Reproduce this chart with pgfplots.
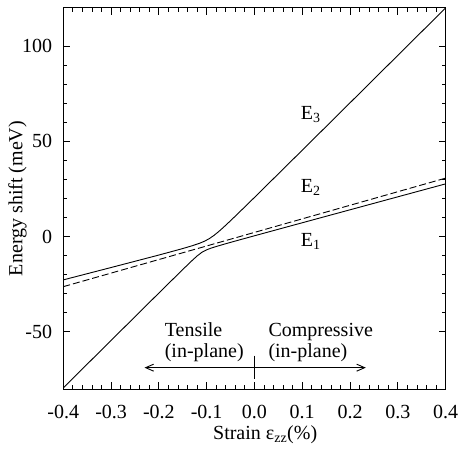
\documentclass[border=0pt]{standalone}
\usepackage{pgfplots}
\pgfplotsset{compat=1.18}
\usepackage{fontspec}
\setmainfont{Liberation Serif}
\usetikzlibrary{arrows.meta}
\begin{document}
\fontsize{20}{22}\selectfont
\begin{tikzpicture}
\begin{axis}[
  name=ax,
  scale only axis, width=382.3pt, height=381pt,
  xmin=-0.4, xmax=0.4, ymin=-80, ymax=120,
  xtick={-0.4,-0.3,-0.2,-0.1,0,0.1,0.2,0.3,0.4},
  xticklabels={-0.4,-0.3,-0.2,-0.1,0.0,0.1,0.2,0.3,0.4},
  ytick={-50,0,50,100},
  yticklabels={-50,0,50,100},
  minor x tick num=4, minor y tick num=4,
  tick align=inside,
  major tick length=7pt, minor tick length=4pt,
  every tick/.style={black, line width=0.8pt},
  axis line style={line width=1pt},
  xticklabel style={inner sep=0pt, yshift=-16pt},
  yticklabel style={inner sep=0pt, xshift=-11pt},
  xlabel={Strain ε\textsubscript{zz}(\%)},
  ylabel={Energy shift (meV)},
  xlabel style={at={([xshift=-41.5pt,yshift=-50pt]axis description cs:0.5,0)}, anchor=base west, inner sep=0pt},
  ylabel style={at={([xshift=-41pt]axis description cs:0,0.5)}, anchor=base, inner sep=0pt},
]
% upper branch (E1 on the left, E3 on the right)
\addplot[black, line width=0.9pt] coordinates {
 (-0.40,-22.72) (-0.30,-16.23) (-0.20,-9.68) (-0.15,-6.27) (-0.13,-4.78)
 (-0.115,-3.51) (-0.105,-2.47) (-0.095,-1.15) (-0.085,0.57) (-0.075,2.60)
 (-0.065,4.83) (-0.05,8.36) (-0.04,10.76) (-0.02,15.64) (0.00,20.55)
 (0.10,45.34) (0.20,70.22) (0.30,95.13) (0.40,120.03)};
% lower branch (E3 on the left, E1 on the right)
\addplot[black, line width=0.9pt] coordinates {
 (-0.40,-79.41) (-0.30,-54.50) (-0.20,-29.63) (-0.15,-17.27) (-0.13,-12.45)
 (-0.12,-10.17) (-0.11,-8.25) (-0.10,-6.93) (-0.09,-5.99) (-0.08,-5.20)
 (-0.065,-4.10) (-0.05,-3.03) (-0.03,-1.64) (0.00,0.43) (0.05,3.85)
 (0.10,7.26) (0.20,14.07) (0.30,20.88) (0.40,27.68)};
% E2
\addplot[black, line width=0.9pt, dash pattern=on 7pt off 3pt] coordinates {
 (-0.40,-26.28) (0.40,30.68)};

\node[anchor=base west, inner sep=0] at (axis cs:0.0967,61.3) {E\textsubscript{3}};
\node[anchor=base west, inner sep=0] at (axis cs:0.0967,23.2) {E\textsubscript{2}};
\node[anchor=base west, inner sep=0] at (axis cs:0.0967,-5.0) {E\textsubscript{1}};

\node[anchor=base west, inner sep=0] at (axis cs:-0.188,-52.2) {Tensile};
\node[anchor=base west, inner sep=0] at (axis cs:-0.188,-63.5) {(in-plane)};
\node[anchor=base west, inner sep=0] at (axis cs:0.029,-52.2) {Compressive};
\node[anchor=base west, inner sep=0] at (axis cs:0.029,-63.5) {(in-plane)};
\draw[line width=0.9pt, {Straight Barb[length=8pt,width=7pt]}-{Straight Barb[length=8pt,width=7pt]}]
  (axis cs:-0.23,-68.8) -- (axis cs:0.233,-68.8);
\draw[line width=0.9pt] (axis cs:0,-62.5) -- (axis cs:0,-74.5);
\end{axis}
\pgfresetboundingbox
\useasboundingbox ([xshift=-63.3pt,yshift=-61pt]ax.south west) rectangle ([xshift=12.4pt,yshift=8pt]ax.north east);
\end{tikzpicture}
\end{document}
